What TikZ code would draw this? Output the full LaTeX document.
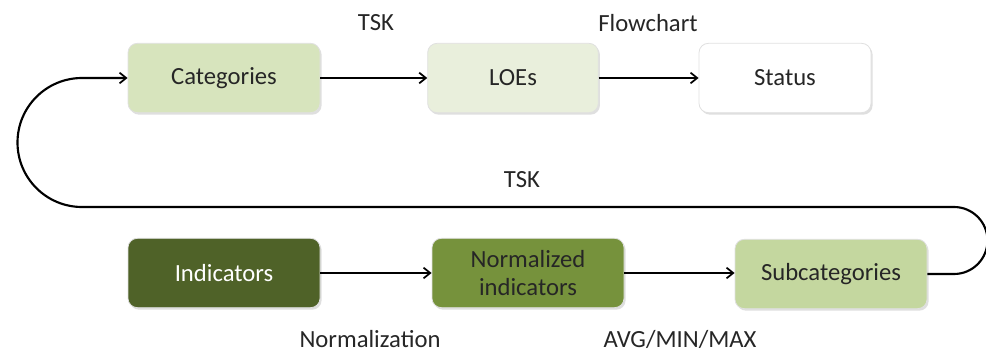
\documentclass[tikz,border=0pt]{standalone}
\usepackage{fontspec}
\setmainfont{Carlito}
\usetikzlibrary{arrows.meta,shadows}
\definecolor{oliveDark}{HTML}{4F6228}
\definecolor{oliveMid}{HTML}{76923C}
\definecolor{greenLight}{HTML}{C4D79F}
\definecolor{greenPale}{HTML}{D7E4BD}
\definecolor{greenFaint}{HTML}{E9EFDC}
\tikzset{
  box/.style={rectangle, rounded corners=7pt, minimum width=144pt, minimum height=52pt,
    draw=black!12, line width=0.6pt, font=\fontsize{18.5}{20}\selectfont, align=center,
    drop shadow={shadow xshift=1.2pt, shadow yshift=-1.5pt, fill=black!25, opacity=0.5}},
  flow/.style={-{Straight Barb[length=5pt,width=8pt,line width=1.3pt]}, line width=1.6pt},
  lbl/.style={font=\fontsize{18.5}{20}\selectfont, text=black!85, inner sep=1pt}
}
\begin{document}
\begin{tikzpicture}[x=0.75pt,y=0.75pt]
  \useasboundingbox (0,0) rectangle (986,354);
  % top row
  \node[box, fill=greenPale, text=black!85] (cat) at (224,276) {Categories};
  \node[box, fill=greenFaint, text=black!85, minimum width=128pt] (loe) at (513,276) {LOEs};
  \node[box, fill=white, text=black!85, minimum width=129pt] (stat) at (785,276) {Status};
  % bottom row
  \node[box, fill=oliveDark, text=white] (ind) at (224,81) {Indicators};
  \node[box, fill=oliveMid, text=black!85, font=\fontsize{18.5}{21}\selectfont] (norm) at (528,81) {Normalized\\indicators};
  \node[box, fill=greenLight, text=black!85] (sub) at (831,80) {Subcategories};
  % connectors
  \draw[flow] (cat) -- (loe);
  \draw[flow] (loe) -- (stat);
  \draw[flow] (ind) -- (norm);
  \draw[flow] (norm) -- (sub.west |- norm);
  \coordinate (rt) at (954,80);
  \coordinate (lt) at (82,147);
  \draw[flow] (sub.east) -- (rt) arc[start angle=-90, end angle=90, radius=33.5]
    -- (lt) arc[start angle=270, end angle=90, radius=64.5] -- (cat.west);
  % labels
  \node[lbl] (t1) at (376,331) {TSK};
  \node[lbl] (t2) at (648,331) {Flowchart};
  \node[lbl] (t3) at (522,174) {TSK};
  \node[lbl] (t4) at (370,15) {Normalization};
  \node[lbl] (t5) at (680,15) {AVG/MIN/MAX};
\end{tikzpicture}
\end{document}
